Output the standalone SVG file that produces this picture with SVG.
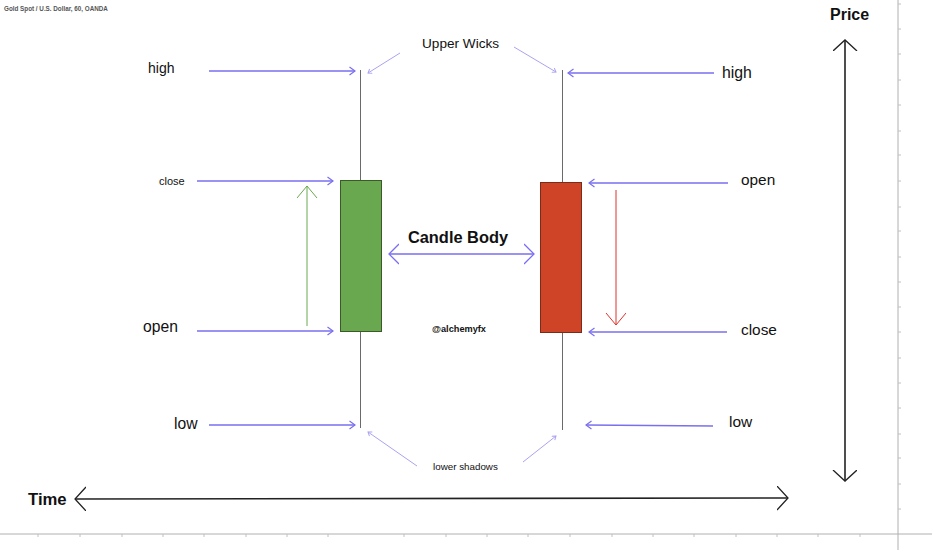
<svg xmlns="http://www.w3.org/2000/svg" width="932" height="550" viewBox="0 0 932 550">
<style>
text{font-family:"Liberation Sans",Arial,sans-serif;fill:#111}
.b{font-weight:bold}
.blue{stroke:#7a6ff0;stroke-width:1.3;fill:none}
.ptr{stroke:#aaa3f2;stroke-width:1;fill:none}
.wick{stroke:#6a6a6a;stroke-width:1}
.axis{stroke:#b0b0b0;stroke-width:1}
.tick{stroke:#c0c0c0;stroke-width:1}
.ax{stroke:#222;stroke-width:1.6;fill:none}
</style>
<defs>
<marker id="mb" markerUnits="userSpaceOnUse" markerWidth="10" markerHeight="12" refX="6" refY="5" orient="auto-start-reverse"><path d="M0.5,1 L6,5 L0.5,9" fill="none" stroke="#7a6ff0" stroke-width="1.2"/></marker>
<marker id="mp" markerUnits="userSpaceOnUse" markerWidth="8" markerHeight="8" refX="4" refY="3" orient="auto"><path d="M0.5,0.5 L4,3 L0.5,5.5" fill="none" stroke="#aaa3f2" stroke-width="1"/></marker>
<marker id="mg" markerUnits="userSpaceOnUse" markerWidth="14" markerHeight="22" refX="12" refY="10" orient="auto"><path d="M0,0 L12,10 L0,20" fill="none" stroke="#6aa84f" stroke-width="1"/></marker>
<marker id="mr" markerUnits="userSpaceOnUse" markerWidth="14" markerHeight="22" refX="12" refY="10" orient="auto"><path d="M0,0 L12,10 L0,20" fill="none" stroke="#e0302a" stroke-width="1"/></marker>
<marker id="mk" markerUnits="userSpaceOnUse" markerWidth="14" markerHeight="26" refX="11" refY="12" orient="auto-start-reverse"><path d="M0,0 L11,12 L0,24" fill="none" stroke="#222" stroke-width="1.3"/></marker>
<marker id="mbig" markerUnits="userSpaceOnUse" markerWidth="14" markerHeight="24" refX="10" refY="11" orient="auto-start-reverse"><path d="M0,1 L10,11 L0,21" fill="none" stroke="#7a6ff0" stroke-width="1.3"/></marker>
</defs>
<rect width="932" height="550" fill="#fff"/>

<g id="chart-frame">
<line class="axis" x1="898" y1="0" x2="898" y2="550"/>
<line class="axis" x1="0" y1="534" x2="932" y2="534"/>
<path class="tick" d="M898,4h3M898,29h3M898,54h3M898,80h3M898,105h3M898,131h3M898,155h3M898,181h3M898,207h3M898,231h3M898,257h3M898,282h3M898,307h3M898,332h3M898,358h3M898,383h3M898,408h3M898,434h3M898,458h3M898,484h3M898,509h3"/>
<path class="tick" d="M38,534v3M80,534v3M122,534v3M163,534v3M204,534v3M246,534v3M287,534v3M328,534v3M404,534v3M446,534v3M487,534v3M528,534v3M570,534v3M612,534v3M653,534v3M694,534v3M736,534v3M777,534v3M818,534v3M860,534v3"/>
<text x="4" y="11" class="b" font-size="6.3" style="fill:#555">Gold Spot / U.S. Dollar, 60, OANDA</text>
</g>

<g id="green-candle">
<line class="wick" x1="360.5" y1="70" x2="360.5" y2="428"/>
<rect x="340.5" y="180.5" width="41" height="151" fill="#6aa84f" stroke="#3b5a2c" stroke-width="1"/>
</g>

<g id="red-candle">
<line class="wick" x1="562.5" y1="70" x2="562.5" y2="430"/>
<rect x="540.5" y="182.5" width="41" height="150" fill="#cf4426" stroke="#7a2c1a" stroke-width="1"/>
</g>

<g id="labels">
<text x="148" y="73" font-size="14">high</text>
<text x="159" y="185" font-size="11">close</text>
<text x="143" y="332" font-size="15.7">open</text>
<text x="174" y="429" font-size="15.7">low</text>
<text x="722" y="78" font-size="15.8">high</text>
<text x="741" y="185" font-size="15.4">open</text>
<text x="741" y="335" font-size="15.4">close</text>
<text x="729" y="427" font-size="15.5">low</text>
<text x="422" y="48" font-size="13.6">Upper Wicks</text>
<text x="433" y="470" font-size="9.8">lower shadows</text>
<text x="458" y="243" class="b" font-size="16.4" text-anchor="middle">Candle Body</text>
<text x="459" y="332" class="b" font-size="9.2" text-anchor="middle">@alchemyfx</text>
<text x="830" y="20" class="b" font-size="16">Price</text>
<text x="28" y="505" class="b" font-size="16.7">Time</text>
</g>

<g id="connectors">
<line class="blue" x1="209" y1="71" x2="355" y2="71" marker-end="url(#mb)"/>
<line class="blue" x1="197" y1="181" x2="333" y2="181" marker-end="url(#mb)"/>
<line class="blue" x1="197" y1="331" x2="333" y2="331" marker-end="url(#mb)"/>
<line class="blue" x1="209" y1="425" x2="355" y2="425" marker-end="url(#mb)"/>
<line class="blue" x1="714" y1="73" x2="568" y2="73" marker-end="url(#mb)"/>
<line class="blue" x1="728" y1="183" x2="589" y2="183" marker-end="url(#mb)"/>
<line class="blue" x1="727" y1="332" x2="589" y2="332" marker-end="url(#mb)"/>
<line class="blue" x1="713" y1="426" x2="586" y2="425" marker-end="url(#mb)"/>
<line class="ptr" x1="400" y1="53" x2="368" y2="73" marker-end="url(#mp)"/>
<line class="ptr" x1="514" y1="47" x2="556" y2="72" marker-end="url(#mp)"/>
<line class="ptr" x1="417" y1="466" x2="368" y2="432" marker-end="url(#mp)"/>
<line class="ptr" x1="523" y1="462" x2="556" y2="436" marker-end="url(#mp)"/>
<line x1="307" y1="326" x2="307" y2="186" stroke="#6aa84f" stroke-width="1" marker-end="url(#mg)"/>
<line x1="616" y1="190" x2="616" y2="325" stroke="#e0302a" stroke-width="1" marker-end="url(#mr)"/>
<line class="blue" x1="389" y1="254" x2="534" y2="254" marker-start="url(#mbig)" marker-end="url(#mbig)"/>
<line class="ax" x1="845" y1="40" x2="845" y2="481" marker-start="url(#mk)" marker-end="url(#mk)"/>
<line class="ax" x1="75" y1="499" x2="788" y2="498" marker-start="url(#mk)" marker-end="url(#mk)"/>
</g>
</svg>
